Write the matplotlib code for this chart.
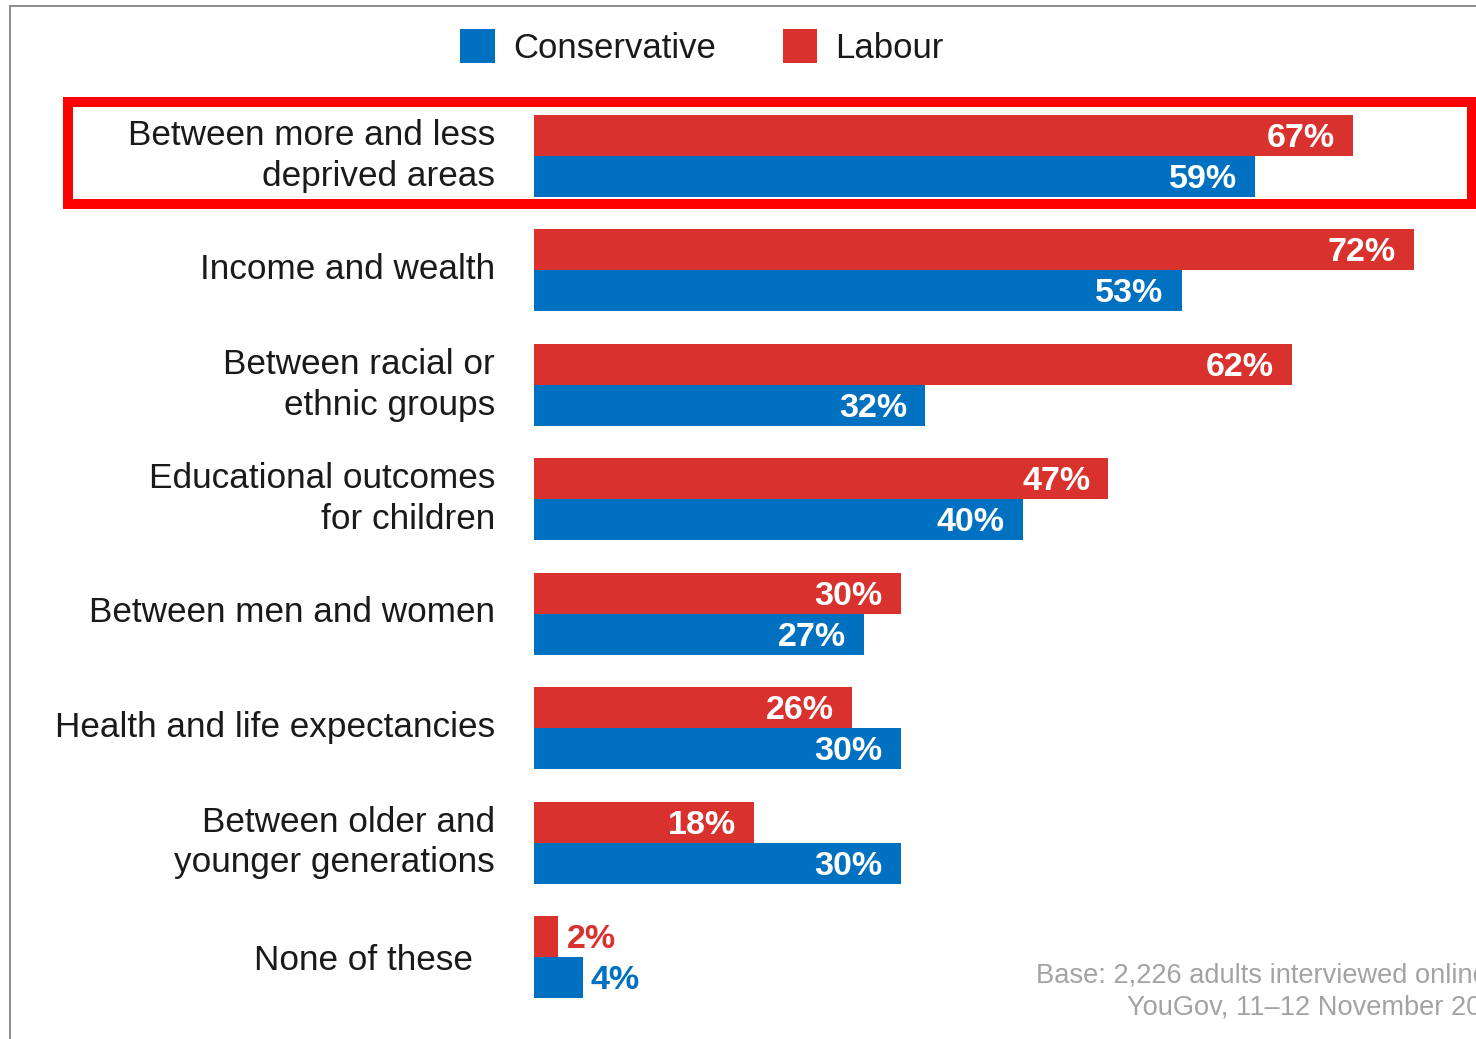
import matplotlib.pyplot as plt
from matplotlib.patches import Rectangle, Patch
from matplotlib.lines import Line2D

plt.rcParams['font.family'] = ['Liberation Sans', 'DejaVu Sans']

categories = ["Between more and less\ndeprived areas", "Income and wealth",
              "Between racial or\nethnic groups", "Educational outcomes\nfor children",
              "Between men and women", "Health and life expectancies",
              "Between older and\nyounger generations", "None of these"]
labour = [67, 72, 62, 47, 30, 26, 18, 2]
conservative = [59, 53, 32, 40, 27, 30, 30, 4]
footnote = ["Base: 2,226 adults interviewed online by", "YouGov, 11\u201312 November 2019"]

RED = '#d9312d'
BLUE = '#0070c0'
W, H = 1476, 1039

fig = plt.figure(figsize=(W / 100, H / 100), dpi=100)

# axes laid out in pixels: 0% at x=534, 12.22 px per %
x0 = 534
ppx = 12.22
xmax = (W - x0) / ppx
top_px, bot_px = 98.8, 1014.2
row_px = (bot_px - top_px) / 8
ax = fig.add_axes([x0 / W, 1 - bot_px / H, (W - x0) / W, (bot_px - top_px) / H])
ax.set_xlim(0, xmax)
ax.set_ylim(7.5, -0.5)
ax.axis('off')

ys = list(range(len(categories)))
bh = 0.358
ax.barh([y - bh / 2 for y in ys], labour, height=bh, color=RED)
ax.barh([y + bh / 2 for y in ys], conservative, height=bh, color=BLUE)

pad = 18 / ppx
dy = 3 / row_px
for i, (l, c) in enumerate(zip(labour, conservative)):
    if l >= 10:
        ax.text(l - pad, i - bh / 2 + dy, f"{l}%", ha='right', va='center', color='white',
                fontsize=24.5, fontweight='bold')
        ax.text(c - pad, i + bh / 2 + dy, f"{c}%", ha='right', va='center', color='white',
                fontsize=24.5, fontweight='bold')
    else:
        ax.text(l + 8 / ppx, i - bh / 2 + dy, f"{l}%", ha='left', va='center', color=RED,
                fontsize=24.5, fontweight='bold')
        ax.text(c + 8 / ppx, i + bh / 2 + dy, f"{c}%", ha='left', va='center', color=BLUE,
                fontsize=24.5, fontweight='bold')

# category labels, right edge at x=495 (None of these a bit further left)
for i, lab in enumerate(categories):
    if i == len(categories) - 1:
        xr, yy = 473, i + 4 / row_px
    elif '\n' in lab:
        xr, yy = 495, i
    else:
        xr, yy = 495, i - 1 / row_px
    ax.text((xr - x0) / ppx, yy, lab, ha='right', va='center', fontsize=25.3,
            color='#1a1a1a', linespacing=1.3, clip_on=False)

# highlight box around first row
fig.patches.append(Rectangle((68 / W, 1 - 204 / H), (1472 - 68) / W, 102 / H,
                             transform=fig.transFigure, fill=False, edgecolor='#ff0000',
                             linewidth=7.2, zorder=5))

# frame lines
fig.lines.append(Line2D([9.5 / W, 9.5 / W], [0, 1 - 6 / H], transform=fig.transFigure,
                        color='#8c8c8c', linewidth=1.4))
fig.lines.append(Line2D([9.5 / W, 1], [1 - 6 / H, 1 - 6 / H], transform=fig.transFigure,
                        color='#8c8c8c', linewidth=1.4))

handles = [Patch(facecolor=BLUE, label='Conservative'), Patch(facecolor=RED, label='Labour')]
fig.legend(handles=handles, loc='center', bbox_to_anchor=(702 / W, 1 - 47 / H), ncol=2,
           frameon=False, fontsize=25, handlelength=1.0, handleheight=1.15,
           handletextpad=0.52, columnspacing=1.93, labelcolor='#1a1a1a')

# footnote runs off the right edge, as in the source image
fig.text(1036 / W, 1 - 976 / H, footnote[0], ha='left', va='center', fontsize=19.6,
         color='#a3a3a3')
fig.text(1127 / W, 1 - 1007 / H, footnote[1], ha='left', va='center', fontsize=19.6,
         color='#a3a3a3')

fig.savefig('out.png', dpi=100)
